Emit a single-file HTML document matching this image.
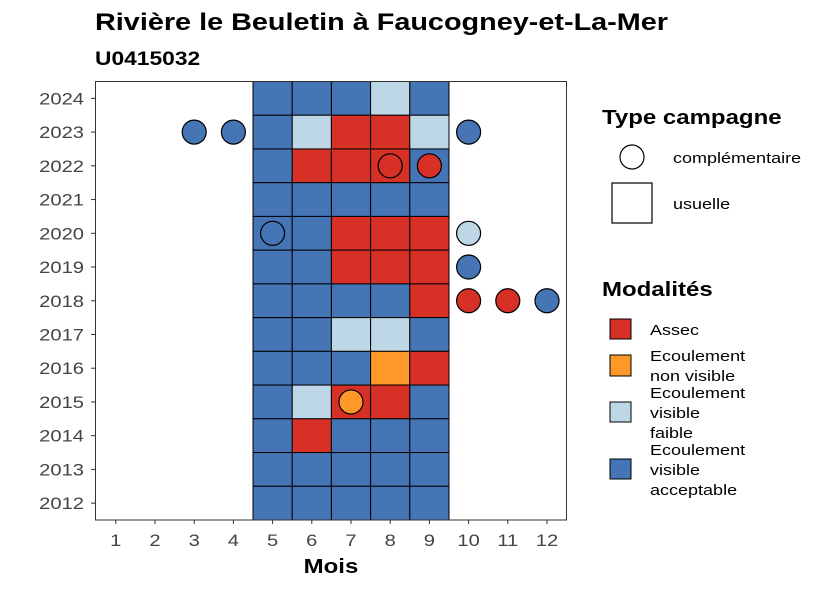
<!DOCTYPE html>
<html><head><meta charset="utf-8"><style>
body{margin:0;background:#fff;}
svg text{font-family:"Liberation Sans",sans-serif;}
</style></head><body>
<svg id="chart" width="826" height="590" xmlns="http://www.w3.org/2000/svg">
<rect width="826" height="590" fill="#fff"/>
<text class="st" x="95" y="30" font-size="24" font-weight="bold" fill="#000">Rivière le Beuletin à Faucogney-et-La-Mer</text>
<text class="st" x="95" y="65" font-size="19" font-weight="bold" fill="#000">U0415032</text>
<g id="tiles"></g>
<g id="points"></g>
<rect x="95.5" y="81.5" width="471" height="438.5" fill="none" stroke="#333" stroke-width="1"/>
<g id="axes"></g>
<text class="st" x="331" y="573" font-size="20" font-weight="bold" text-anchor="middle">Mois</text>
<g>
<text class="st" x="602" y="124" font-size="20" font-weight="bold">Type campagne</text>
<circle cx="632" cy="157" r="12" fill="#fff" stroke="#000" stroke-width="1.2"/>
<text class="st" x="673" y="163" font-size="15">complémentaire</text>
<rect x="612" y="183" width="40" height="40" fill="#fff" stroke="#000" stroke-width="1.2"/>
<text class="st" x="673" y="209" font-size="15">usuelle</text>
</g>
<g>
<text class="st" x="602" y="296" font-size="20" font-weight="bold">Modalités</text>
<rect x="610" y="319" width="21" height="20" fill="#D73027" stroke="#000"/>
<text class="st" x="650" y="335" font-size="15">Assec</text>
<rect x="610" y="355" width="21" height="21" fill="#FE9929" stroke="#000"/>
<text font-size="15"><tspan class="st" x="650" y="361">Ecoulement</tspan><tspan class="st" x="650" y="381">non visible</tspan></text>
<rect x="610" y="402" width="21" height="20" fill="#BDD7E7" stroke="#000"/>
<text font-size="15"><tspan class="st" x="650" y="398">Ecoulement</tspan><tspan class="st" x="650" y="418">visible</tspan><tspan class="st" x="650" y="438">faible</tspan></text>
<rect x="610" y="459" width="21" height="20" fill="#4575B4" stroke="#000"/>
<text font-size="15"><tspan class="st" x="650" y="455">Ecoulement</tspan><tspan class="st" x="650" y="475">visible</tspan><tspan class="st" x="650" y="495">acceptable</tspan></text>
</g>
</svg>
<script>
const years=[2024,2023,2022,2021,2020,2019,2018,2017,2016,2015,2014,2013,2012];
const tileMonths=[5,6,7,8,9];
// codes: A=Assec, N=non visible, F=faible, V=acceptable
const tileRows=[
"VVVFV","VFAAF","VAAAV","VVVVV","VVAAA","VVAAA","VVVVA","VVFFV","VVVNA","VFAAV","VAVVV","VVVVV","VVVVV"];
const ptMonths=[3,4,10,8,9,5,10,10,10,11,12,7];
const ptYears=[2023,2023,2023,2022,2022,2020,2020,2019,2018,2018,2018,2015];
const ptCodes=["V","V","V","A","A","V","F","V","A","A","V","N"];
const xTicks=[1,2,3,4,5,6,7,8,9,10,11,12];
const colors={A:"#D73027",N:"#FE9929",F:"#BDD7E7",V:"#4575B4"};
const NS="http://www.w3.org/2000/svg";
const x=m=>115.8+(m-1)*39.2;
const rowH=438.5/years.length;
const y=yr=>81.5+(years.indexOf(yr)+0.5)*rowH;
function mk(tag,a,parent){const e=document.createElementNS(NS,tag);for(const k in a)e.setAttribute(k,a[k]);document.getElementById(parent).appendChild(e);return e;}
years.forEach((yr,i)=>{tileMonths.forEach((m,j)=>{
const r=mk("rect",{x:x(m)-19.6,y:y(yr)-rowH/2,width:39.2,height:rowH,fill:colors[tileRows[i][j]],stroke:"#000","stroke-width":1},"tiles");


});});
ptMonths.forEach((m,i)=>{
const c=mk("circle",{cx:x(m),cy:y(ptYears[i]),r:12,fill:colors[ptCodes[i]],stroke:"#000","stroke-width":1.2},"points");


});
xTicks.forEach(m=>{
const t=mk("line",{x1:x(m),x2:x(m),y1:520,y2:524,stroke:"#333"},"axes");


const l=mk("text",{x:x(m),y:546,"font-size":16.5,"text-anchor":"middle",fill:"#444",class:"tk"},"axes");
l.textContent=m;


});
years.forEach(yr=>{
const t=mk("line",{x1:91,x2:95.5,y1:y(yr),y2:y(yr),stroke:"#333"},"axes");


const l=mk("text",{x:84,y:y(yr)+6,"font-size":16.5,"text-anchor":"end",fill:"#444",class:"tk"},"axes");
l.textContent=yr;


});
function stretch(sel,f){document.querySelectorAll(sel).forEach(e=>{const w=e.getComputedTextLength();e.setAttribute('textLength',(w*f).toFixed(1));e.setAttribute('lengthAdjust','spacingAndGlyphs');});}
stretch('text.st',1.2);
stretch('tspan.st',1.2);
stretch('text.tk',1.22);
</script>
</body></html>
